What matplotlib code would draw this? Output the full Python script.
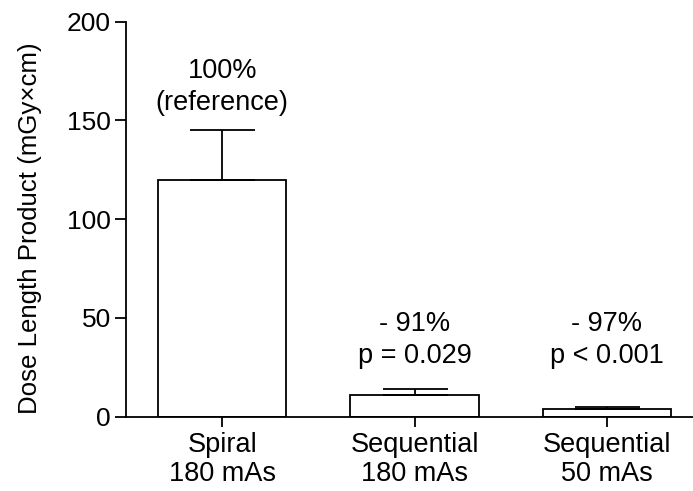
import matplotlib
matplotlib.use("Agg")
import matplotlib.pyplot as plt

categories = ["Spiral\n180 mAs", "Sequential\n180 mAs", "Sequential\n50 mAs"]
values = [120, 10.8, 3.7]
errors = [25, 3.0, 1.0]
annotations = ["100%\n(reference)", "- 91%\np = 0.029", "- 97%\np < 0.001"]
annot_y = [155.3, 27.2, 27.2]
yticks = [0, 50, 100, 150, 200]

plt.rcParams['font.family'] = ['Liberation Sans', 'DejaVu Sans']

fig = plt.figure(figsize=(6.93, 4.91), dpi=100)
ax = fig.add_axes([126/693, (491-416.7)/491, (703-126)/693, (416.7-21.7)/491])

x = list(range(len(categories)))
ax.bar(x, values, width=0.667, color='white', edgecolor='black', linewidth=1.3, zorder=2)
ax.errorbar(x, values, yerr=[[0]*len(errors), errors], fmt='none', ecolor='black',
            elinewidth=1.3, capsize=23.4, capthick=1.3, zorder=3)

for xi, txt, yy in zip(x, annotations, annot_y):
    ax.text(xi, yy, txt, ha='center', va='baseline', fontsize=19.5, linespacing=1.3)

ax.set_xlim(-0.5, 2.5)
ax.set_ylim(0, 200)
ax.set_yticks(yticks)
ax.set_xticks(x)
ax.set_xticklabels(categories, fontsize=19.5, linespacing=1.12)
ax.tick_params(axis='y', labelsize=19, length=8, width=1.3, pad=3)
ax.tick_params(axis='x', length=7.2, width=1.3, pad=4)
ax.spines['top'].set_visible(False)
ax.spines['right'].set_visible(False)
ax.spines['left'].set_linewidth(1.3)
ax.spines['bottom'].set_linewidth(1.3)
ax.set_ylabel("Dose Length Product (mGy×cm)", fontsize=18.6)
ax.yaxis.set_label_coords(-0.146, 0.476)

fig.savefig("out.png", dpi=100)
